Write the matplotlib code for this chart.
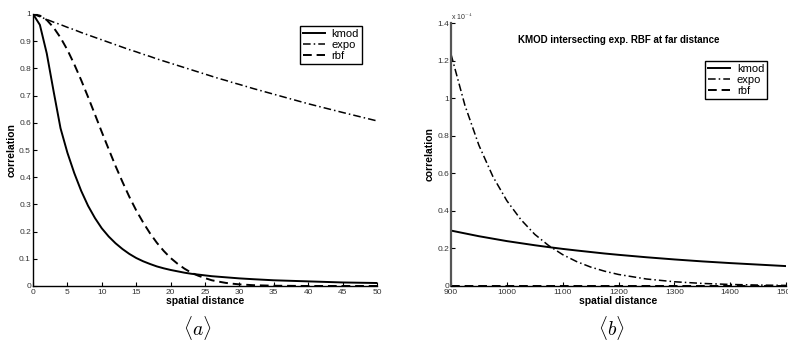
import matplotlib
matplotlib.use("Agg")
import matplotlib.pyplot as plt

plt.rcParams['font.family'] = ['Liberation Sans', 'DejaVu Sans']
plt.rcParams['mathtext.fontset'] = 'cm'

# ---- panel (a): near distance ----
near_x = [0, 1, 2, 3, 4, 5, 6, 7, 8, 9, 10, 11, 12, 13, 14, 15, 16, 17, 18, 19, 20,
          21, 22, 23, 24, 25, 26, 27, 28, 29, 30, 32, 35, 40, 45, 50]
kmod_near = [1.0, 0.96, 0.855, 0.715, 0.58, 0.49, 0.415, 0.35, 0.295, 0.25, 0.212,
             0.182, 0.157, 0.136, 0.118, 0.103, 0.091, 0.081, 0.072, 0.065, 0.059,
             0.054, 0.049, 0.045, 0.042, 0.039, 0.036, 0.034, 0.032, 0.030, 0.028,
             0.025, 0.021, 0.017, 0.013, 0.011]
expo_near = [1.0, 0.990, 0.980, 0.970, 0.961, 0.951, 0.942, 0.932, 0.923, 0.914, 0.905,
             0.896, 0.887, 0.878, 0.869, 0.861, 0.852, 0.844, 0.835, 0.827, 0.819,
             0.811, 0.803, 0.795, 0.787, 0.779, 0.771, 0.763, 0.756, 0.748, 0.741,
             0.726, 0.705, 0.670, 0.638, 0.607]
rbf_near = [1.0, 0.994, 0.978, 0.950, 0.913, 0.868, 0.815, 0.757, 0.695, 0.631, 0.566,
            0.503, 0.441, 0.383, 0.328, 0.278, 0.234, 0.194, 0.159, 0.129, 0.103,
            0.082, 0.064, 0.049, 0.038, 0.029, 0.021, 0.016, 0.0115, 0.0084, 0.006,
            0.003, 0.001, 0.0, 0.0, 0.0]

# ---- panel (b): far distance (values in units of 1e-4) ----
far_x = [900, 925, 950, 975, 1000, 1025, 1050, 1075, 1100, 1125, 1150, 1175, 1200,
         1250, 1300, 1350, 1400, 1450, 1500]
kmod_far = [0.295, 0.280, 0.265, 0.252, 0.239, 0.228, 0.217, 0.207, 0.1975, 0.189,
            0.181, 0.173, 0.166, 0.153, 0.1414, 0.131, 0.122, 0.114, 0.106]
expo_far = [1.234, 0.961, 0.749, 0.583, 0.454, 0.354, 0.275, 0.215, 0.167, 0.130,
            0.101, 0.0789, 0.0614, 0.0373, 0.0226, 0.0137, 0.0083, 0.0050, 0.0031]
rbf_far = [0.0] * len(far_x)

near_xticks = [0, 5, 10, 15, 20, 25, 30, 35, 40, 45, 50]
near_yticks = [0, 0.1, 0.2, 0.3, 0.4, 0.5, 0.6, 0.7, 0.8, 0.9, 1.0]
near_yticklabels = ['0', '0.1', '0.2', '0.3', '0.4', '0.5', '0.6', '0.7', '0.8', '0.9', '1']
far_xticks = [900, 1000, 1100, 1200, 1300, 1400, 1500]
far_yticks = [0, 0.2, 0.4, 0.6, 0.8, 1.0, 1.2, 1.4]
far_yticklabels = ['0', '0.2', '0.4', '0.6', '0.8', '1', '1.2', '1.4']

W, H = 788, 343
fig = plt.figure(figsize=(W / 100, H / 100), dpi=100)

def fr(x0, y_top, x1, y_bot):
    return [x0 / W, 1 - y_bot / H, (x1 - x0) / W, (y_bot - y_top) / H]

ax1 = fig.add_axes(fr(33, 14, 377, 286))
ax2 = fig.add_axes(fr(451, 23, 786, 286))

lw = 1.4
dash = (0, (4.5, 2.5))
dashdot = (0, (5, 2, 1, 2))

for ax, x, k, e, r in [(ax1, near_x, kmod_near, expo_near, rbf_near),
                       (ax2, far_x, kmod_far, expo_far, rbf_far)]:
    ax.plot(x, k, color='black', lw=lw, linestyle='-', label='kmod')
    ax.plot(x, e, color='black', lw=1.1, linestyle=dashdot, label='expo')
    ax.plot(x, r, color='black', lw=lw, linestyle=dash, label='rbf')
    for s in ['top', 'right']:
        ax.spines[s].set_visible(False)
    for s in ['left', 'bottom']:
        ax.spines[s].set_linewidth(1.0)
    ax.tick_params(direction='in', length=3, width=0.8, labelsize=6,
                   labelcolor='#333333', pad=1.5)
    ax.tick_params(axis='x', pad=2.5)
    ax.set_xlabel('spatial distance', fontsize=7.5, fontweight='bold', labelpad=0)
    ax.set_ylabel('correlation', fontsize=7.5, fontweight='bold', labelpad=2)

ax1.set_xlim(0, 50)
ax1.set_ylim(0, 1)
ax1.set_xticks(near_xticks)
ax1.set_yticks(near_yticks)
ax1.set_yticklabels(near_yticklabels)

ax2.set_xlim(900, 1500)
ax2.set_ylim(0, 1.4)
ax2.set_xticks(far_xticks)
ax2.set_yticks(far_yticks)
ax2.set_yticklabels(far_yticklabels)
ax2.spines['left'].set_color('#555555')
ax2.spines['left'].set_linewidth(1.6)
ax2.text(0.0, 1.005, r'x 10$^{-4}$', transform=ax2.transAxes, fontsize=5,
         ha='left', va='bottom', color='#333333')
ax2.text(0.5, 0.935, 'KMOD intersecting exp. RBF at far distance',
         transform=ax2.transAxes, fontsize=7, fontweight='bold', ha='center', va='center')

leg_kw = dict(fontsize=8, frameon=True, fancybox=False, edgecolor='black',
              handlelength=2.0, handletextpad=0.6, labelspacing=0.1,
              borderpad=0.25, borderaxespad=0.0, framealpha=1)
l1 = ax1.legend(loc='upper right', bbox_to_anchor=(0.956, 0.956), **leg_kw)
l2 = ax2.legend(loc='upper right', bbox_to_anchor=(0.943, 0.856), **leg_kw)
for l in (l1, l2):
    l.get_frame().set_linewidth(1.0)

fig.text(197 / W, 1 - 328 / H, r'$\langle a\rangle$', fontsize=14, ha='center', va='center')
fig.text(611 / W, 1 - 328 / H, r'$\langle b\rangle$', fontsize=14, ha='center', va='center')

fig.savefig('out.png', dpi=100)
